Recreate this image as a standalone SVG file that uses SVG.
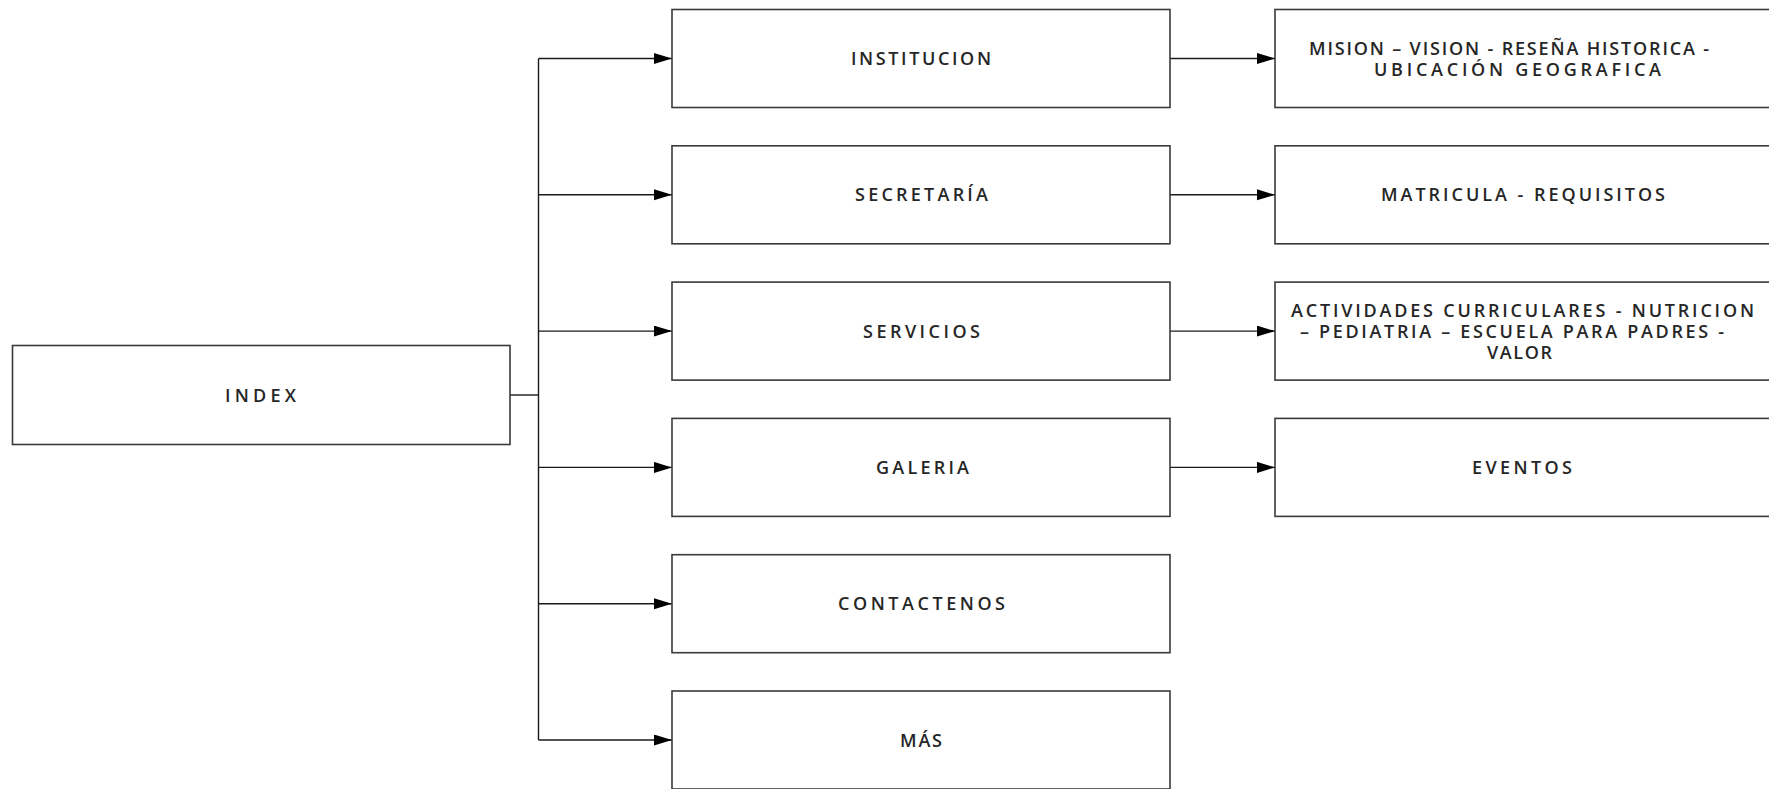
<svg xmlns="http://www.w3.org/2000/svg" width="1769" height="789" viewBox="0 0 1769 789">
  <style>
    .box { fill: #ffffff; stroke: #3a3a3a; stroke-width: 1.6; }
    .lbl { font-family: "Open Sans", "Liberation Sans", Arial, sans-serif; font-size: 18px; font-weight: 600; fill: #262626; }
    .wire { fill: none; stroke: #1a1a1a; stroke-width: 1.4; }
  </style>
  <defs>
    <marker id="arrow" markerUnits="userSpaceOnUse" markerWidth="19" markerHeight="12" refX="18" refY="5.5" orient="auto">
      <path d="M0,0 L18,5.5 L0,11 z" fill="#000000"/>
    </marker>
  </defs>

  <rect width="1769" height="789" fill="#ffffff"/>

  <!-- connectors -->
  <g id="connectors">
    <line class="wire" x1="510" y1="395" x2="538.5" y2="395"/>
    <line class="wire" x1="538.5" y1="58.5" x2="538.5" y2="740"/>
    <line class="wire" x1="538.5" y1="58.5" x2="672" y2="58.5" marker-end="url(#arrow)"/>
    <line class="wire" x1="538.5" y1="194.8" x2="672" y2="194.8" marker-end="url(#arrow)"/>
    <line class="wire" x1="538.5" y1="331.1" x2="672" y2="331.1" marker-end="url(#arrow)"/>
    <line class="wire" x1="538.5" y1="467.4" x2="672" y2="467.4" marker-end="url(#arrow)"/>
    <line class="wire" x1="538.5" y1="603.7" x2="672" y2="603.7" marker-end="url(#arrow)"/>
    <line class="wire" x1="538.5" y1="740" x2="672" y2="740" marker-end="url(#arrow)"/>
    <line class="wire" x1="1170" y1="58.5" x2="1275" y2="58.5" marker-end="url(#arrow)"/>
    <line class="wire" x1="1170" y1="194.8" x2="1275" y2="194.8" marker-end="url(#arrow)"/>
    <line class="wire" x1="1170" y1="331.1" x2="1275" y2="331.1" marker-end="url(#arrow)"/>
    <line class="wire" x1="1170" y1="467.4" x2="1275" y2="467.4" marker-end="url(#arrow)"/>
  </g>

  <!-- root -->
  <g id="index">
    <rect class="box" x="12.5" y="345.5" width="497.5" height="99"/>
    <text class="lbl" x="225" y="401.5" textLength="71" lengthAdjust="spacing">INDEX</text>
  </g>

  <!-- main sections -->
  <g id="institucion">
    <rect class="box" x="672" y="9.5" width="498" height="98"/>
    <text class="lbl" x="851" y="65" textLength="140" lengthAdjust="spacing">INSTITUCION</text>
  </g>
  <g id="secretaria">
    <rect class="box" x="672" y="145.8" width="498" height="98"/>
    <text class="lbl" x="855" y="201.3" textLength="133" lengthAdjust="spacing">SECRETARÍA</text>
  </g>
  <g id="servicios">
    <rect class="box" x="672" y="282.1" width="498" height="98"/>
    <text class="lbl" x="863" y="337.6" textLength="117" lengthAdjust="spacing">SERVICIOS</text>
  </g>
  <g id="galeria">
    <rect class="box" x="672" y="418.4" width="498" height="98"/>
    <text class="lbl" x="876" y="473.9" textLength="93" lengthAdjust="spacing">GALERIA</text>
  </g>
  <g id="contactenos">
    <rect class="box" x="672" y="554.7" width="498" height="98"/>
    <text class="lbl" x="838" y="610.2" textLength="167" lengthAdjust="spacing">CONTACTENOS</text>
  </g>
  <g id="mas">
    <rect class="box" x="672" y="691" width="498" height="98"/>
    <text class="lbl" x="900" y="746.5" textLength="42" lengthAdjust="spacing">MÁS</text>
  </g>

  <!-- detail pages -->
  <g id="institucion-detalle">
    <rect class="box" x="1275" y="9.5" width="498" height="98"/>
    <text class="lbl" x="1309" y="55" textLength="400" lengthAdjust="spacing">MISION – VISION - RESEÑA HISTORICA -</text>
    <text class="lbl" x="1374" y="75.5" textLength="287" lengthAdjust="spacing">UBICACIÓN GEOGRAFICA</text>
  </g>
  <g id="secretaria-detalle">
    <rect class="box" x="1275" y="145.8" width="498" height="98"/>
    <text class="lbl" x="1381" y="201.3" textLength="284" lengthAdjust="spacing">MATRICULA - REQUISITOS</text>
  </g>
  <g id="servicios-detalle">
    <rect class="box" x="1275" y="282.1" width="498" height="98"/>
    <text class="lbl" x="1291" y="316.5" textLength="463" lengthAdjust="spacing">ACTIVIDADES CURRICULARES - NUTRICION</text>
    <text class="lbl" x="1300" y="337.5" textLength="424" lengthAdjust="spacing">– PEDIATRIA – ESCUELA PARA PADRES -</text>
    <text class="lbl" x="1487" y="358.5" textLength="65" lengthAdjust="spacing">VALOR</text>
  </g>
  <g id="galeria-detalle">
    <rect class="box" x="1275" y="418.4" width="498" height="98"/>
    <text class="lbl" x="1472" y="473.9" textLength="100" lengthAdjust="spacing">EVENTOS</text>
  </g>
</svg>
